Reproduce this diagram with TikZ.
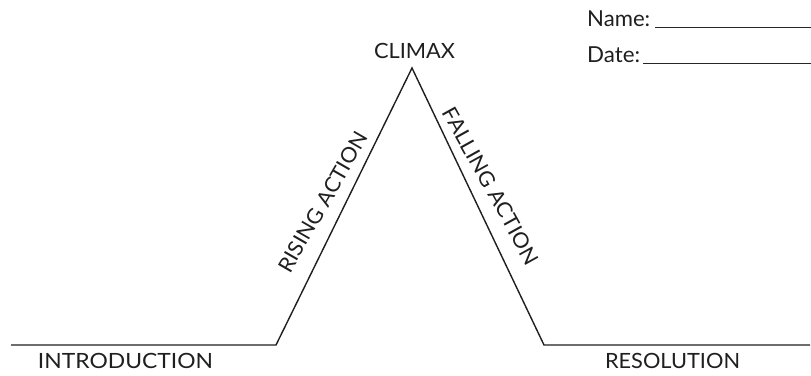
\documentclass[tikz,border=0pt]{standalone}
\usepackage{fontspec}
\usepackage{graphicx}
\setmainfont{Lato}
\newcommand{\fitw}[2]{\resizebox{#1}{\height}{#2}}
\begin{document}
\begin{tikzpicture}[x=1pt,y=-1pt,
  plot/.style={line width=1.4pt,draw=black!88,line join=miter},
  label/.style={inner sep=0pt,font=\fontsize{21}{21}\selectfont,text=black!88},
  head/.style={inner sep=0pt,font=\fontsize{22}{22}\selectfont,text=black!88},
  blank/.style={line width=0.9pt,draw=black!85}]
\useasboundingbox (0,0) rectangle (811,375);
\coordinate (s) at (11,345);
\coordinate (a) at (276,345);
\coordinate (p) at (412,68);
\coordinate (b) at (544,345);
\coordinate (e) at (810,345);
\draw[plot] (s) -- (a) -- (p) -- (b) -- (e);
\node[label,anchor=base] (intro) at (125.5,368) {\fitw{175pt}{INTRODUCTION}};
\node[label,anchor=base] (resol) at (672.5,368) {\fitw{135pt}{RESOLUTION}};
\node[label,anchor=base] (climax) at (414.5,58) {\fitw{81pt}{CLIMAX}};
\node[label,rotate=60] (rising) at (323,202) {\fitw{158pt}{RISING ACTION}};
\node[label,rotate=-61] (falling) at (491,186) {\fitw{176pt}{FALLING ACTION}};
\node[head,anchor=base west] (name) at (587,26) {\fitw{63pt}{Name:}};
\node[head,anchor=base west] (date) at (587,62) {\fitw{53pt}{Date:}};
\coordinate (n1) at (655,27);
\coordinate (n2) at (811,27);
\coordinate (d1) at (643,63);
\coordinate (d2) at (811,63);
\draw[blank] (n1) -- (n2);
\draw[blank] (d1) -- (d2);
\end{tikzpicture}
\end{document}
